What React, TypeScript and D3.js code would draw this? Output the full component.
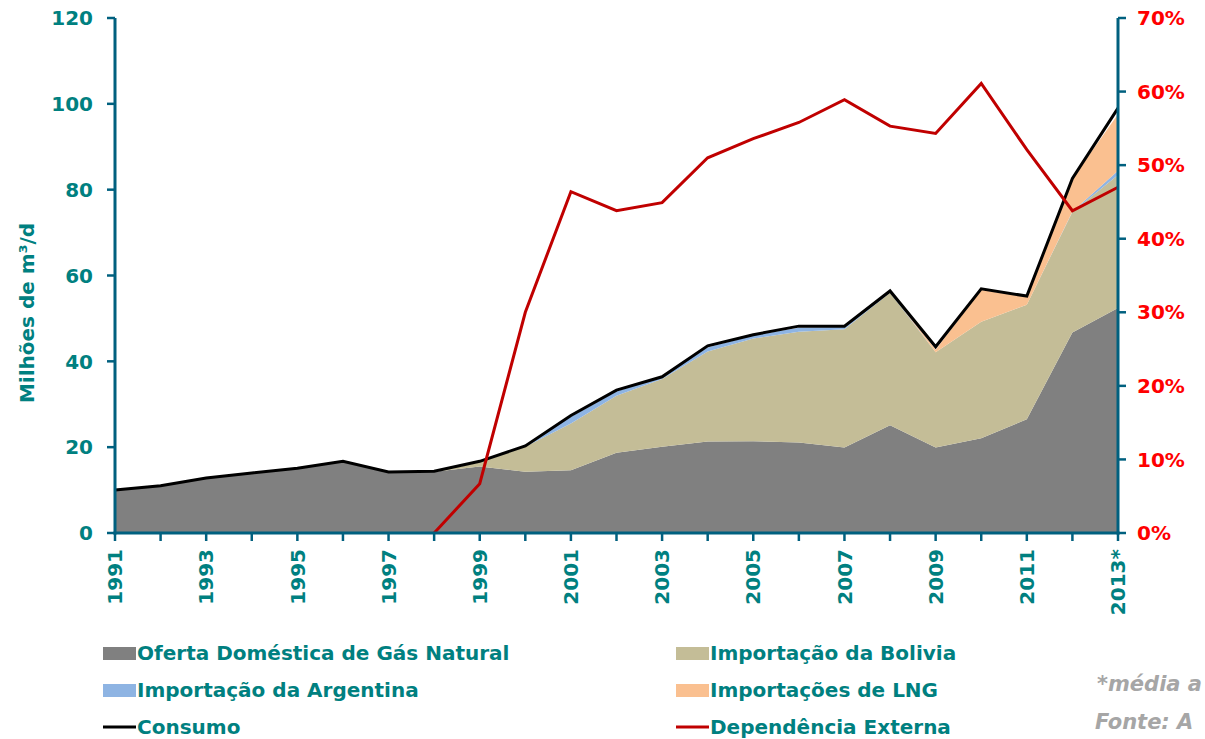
import React from "react";
import * as d3 from "d3";

const years = [1991,1992,1993,1994,1995,1996,1997,1998,1999,2000,2001,2002,2003,2004,2005,2006,2007,2008,2009,2010,2011,2012,2013];
const yearLabels = ["1991","","1993","","1995","","1997","","1999","","2001","","2003","","2005","","2007","","2009","","2011","","2013*"];
const domestic = [10.0,11.0,12.8,14.0,15.1,16.6,14.1,14.3,15.5,14.3,14.6,18.7,20.1,21.3,21.4,21.1,19.9,25.1,19.9,22.1,26.5,46.7,52.4];
const bolivia  = [0,0,0,0,0,0,0,0,0.9,5.8,10.9,13.3,15.8,21.0,23.9,25.8,27.6,30.9,22.2,27.1,26.7,28.1,31.0];
const argentina= [0,0,0,0,0,0,0,0,0,0.2,1.6,1.0,0.6,0.9,0.7,0.9,0.5,0.2,0,0,0,0.1,1.0];
const lng      = [0,0,0,0,0,0,0,0,0,0,0,0,0,0,0,0,0,0,0.6,7.4,1.8,7.7,13.2];
const consumo  = [10.0,11.0,12.8,14.0,15.1,16.7,14.2,14.4,16.7,20.3,27.4,33.3,36.4,43.6,46.2,48.2,48.2,56.4,43.4,56.9,55.2,82.6,99.0];
const dependencia = [null,null,null,null,null,null,null,0,0.067,0.30,0.464,0.438,0.449,0.51,0.536,0.558,0.589,0.553,0.543,0.611,0.521,0.438,0.470];
const leftTicks = [0,20,40,60,80,100,120];
const rightTicks = [0,0.1,0.2,0.3,0.4,0.5,0.6,0.7];

const seriesNames = ["Oferta Doméstica de Gás Natural","Importação da Bolivia","Importação da Argentina","Importações de LNG"];
const seriesColors = ["#808080","#C4BD97","#8EB4E3","#FAC090"];

const TEAL = "#008080";
const AXIS = "#00607F";
const FONT = "'DejaVu Sans', Verdana, sans-serif";

export default function App() {
  const x = d3.scaleLinear().domain([1991, 2013]).range([115, 1118]);
  const y = d3.scaleLinear().domain([0, 120]).range([533, 18]);
  const y2 = d3.scaleLinear().domain([0, 0.7]).range([533, 18]);

  const rows = years.map((yr, i) => ({ yr, d: domestic[i], b: bolivia[i], a: argentina[i], l: lng[i] }));
  const stack = d3.stack<any>().keys(["d","b","a","l"])(rows);
  const area = d3.area<any>().x((p: any) => x(p.data.yr)).y0((p: any) => y(p[0])).y1((p: any) => y(p[1]));

  const line = d3.line<number>().x((_, i) => x(years[i])).y((v) => y(v));
  const depData = years.map((yr, i) => ({ yr, v: dependencia[i] }));
  const depLine = d3.line<any>().defined((p: any) => p.v !== null).x((p: any) => x(p.yr)).y((p: any) => y2(p.v));

  const legendItems = [
    { name: seriesNames[0], color: seriesColors[0], type: "rect", x: 103, y: 653 },
    { name: seriesNames[1], color: seriesColors[1], type: "rect", x: 676, y: 653 },
    { name: seriesNames[2], color: seriesColors[2], type: "rect", x: 103, y: 690 },
    { name: seriesNames[3], color: seriesColors[3], type: "rect", x: 676, y: 690 },
    { name: "Consumo", color: "#000000", type: "line", x: 103, y: 727 },
    { name: "Dependência Externa", color: "#C00000", type: "line", x: 676, y: 727 },
  ];

  return (
    <svg width={1205} height={739} style={{ position: "absolute", left: 0, top: 0, fontFamily: FONT }}>
      <rect width={1205} height={739} fill="#fff" />
      {stack.map((s, i) => (
        <path key={i} d={area(s as any) as string} fill={seriesColors[i]} stroke="none" />
      ))}
      <path d={line(consumo) as string} fill="none" stroke="#000" strokeWidth={3} strokeLinejoin="miter" />
      <path d={depLine(depData) as string} fill="none" stroke="#C00000" strokeWidth={3} />

      {/* axes */}
      <line x1={115} x2={115} y1={y(120)} y2={y(0) + 1.5} stroke={AXIS} strokeWidth={3} />
      <line x1={1118} x2={1118} y1={y2(0.7)} y2={y2(0) + 1.5} stroke={AXIS} strokeWidth={3} />
      <line x1={113.5} x2={1119.5} y1={533} y2={533} stroke={AXIS} strokeWidth={3} />
      {leftTicks.map((t) => (
        <g key={"l" + t}>
          <line x1={107} x2={115} y1={y(t)} y2={y(t)} stroke={AXIS} strokeWidth={2.5} />
          <text x={93} y={y(t)} dy="0.36em" textAnchor="end" fill={TEAL} fontWeight="bold" fontSize={20}>{t}</text>
        </g>
      ))}
      {rightTicks.map((t) => (
        <g key={"r" + t}>
          <line x1={1118} x2={1126} y1={y2(t)} y2={y2(t)} stroke={AXIS} strokeWidth={2.5} />
          <text x={1137} y={y2(t)} dy="0.36em" textAnchor="start" fill="#FF0000" fontWeight="bold" fontSize={20}>{Math.round(t * 100) + "%"}</text>
        </g>
      ))}
      {years.map((yr, i) => (
        <g key={"x" + yr}>
          <line x1={x(yr)} x2={x(yr)} y1={533} y2={541} stroke={AXIS} strokeWidth={2.5} />
          {yearLabels[i] && (
            <text transform={`translate(${x(yr)},549) rotate(-90)`} dy="0.36em" textAnchor="end" fill={TEAL} fontWeight="bold" fontSize={20}>{yearLabels[i]}</text>
          )}
        </g>
      ))}
      <text transform="translate(27,313) rotate(-90)" dy="0.36em" textAnchor="middle" fill={TEAL} fontWeight="bold" fontSize={20}>Milhões de m³/d</text>

      {legendItems.map((it, i) => (
        <g key={"lg" + i}>
          {it.type === "rect" ? (
            <rect x={it.x} y={it.y - 6} width={33} height={13} fill={it.color} />
          ) : (
            <line x1={it.x} x2={it.x + 33} y1={it.y} y2={it.y} stroke={it.color} strokeWidth={3} />
          )}
          <text x={it.x + 34} y={it.y} dy="0.36em" fill={TEAL} fontWeight="bold" fontSize={20}>{it.name}</text>
        </g>
      ))}
      <text x={1097} y={683} dy="0.36em" fill="#A6A6A6" fontWeight="bold" fontStyle="italic" fontSize={21}>*média a</text>
      <text x={1095} y={721} dy="0.36em" fill="#A6A6A6" fontWeight="bold" fontStyle="italic" fontSize={21}>Fonte: A</text>
    </svg>
  );
}
